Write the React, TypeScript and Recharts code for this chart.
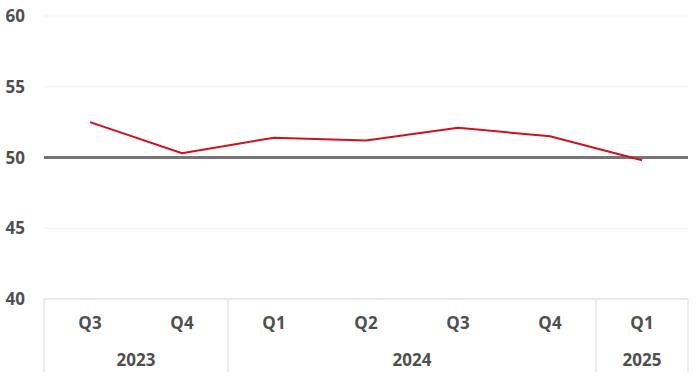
import { LineChart, Line, XAxis, YAxis, CartesianGrid, ReferenceLine } from 'recharts';

const quarters = ['Q3', 'Q4', 'Q1', 'Q2', 'Q3', 'Q4', 'Q1'];
const years = ['2023', '2023', '2024', '2024', '2024', '2024', '2025'];
const values = [52.5, 50.3, 51.4, 51.2, 52.1, 51.5, 49.8];
const yTicks = [40, 45, 50, 55, 60];

const data = quarters.map((q, i) => ({ quarter: q, year: years[i], value: values[i] }));

const WIDTH = 700;
const HEIGHT = 377;
const LEFT = 44;
const RIGHT = 12;
const BAND = (WIDTH - LEFT - RIGHT) / quarters.length;
const FONT = '"Open Sans", sans-serif';
const TEXT = '#4f4f4f';
const SEP = '#d9d9d9';

function QuarterTick(props: any) {
  const { x, y, payload } = props;
  const i = payload.index;
  const first = i === 0 || years[i] !== years[i - 1];
  const last = i === years.length - 1;
  let end = i;
  while (end + 1 < years.length && years[end + 1] === years[i]) end++;
  return (
    <g>
      <text x={x} y={y + 25} textAnchor="middle" dominantBaseline="middle" fontFamily={FONT} fontSize={17} fontWeight={700} fill={TEXT}>
        {payload.value}
      </text>
      {first && (
        <>
          <line x1={x - BAND / 2} x2={x - BAND / 2} y1={y} y2={y + 73} stroke={SEP} />
          <text x={x + ((end - i) * BAND) / 2} y={y + 62} textAnchor="middle" dominantBaseline="middle" fontFamily={FONT} fontSize={17} fontWeight={700} fill={TEXT}>
            {years[i]}
          </text>
        </>
      )}
      {last && <line x1={x + BAND / 2} x2={x + BAND / 2} y1={y} y2={y + 73} stroke={SEP} />}
    </g>
  );
}

export default function App() {
  return (
    <div style={{ position: 'absolute', left: 0, top: 0, background: '#fff' }}>
      <LineChart width={WIDTH} height={HEIGHT} data={data} margin={{ top: 16, right: RIGHT, bottom: 0, left: 0 }}>
        <CartesianGrid vertical={false} stroke="#f0f0f0" />
        <XAxis
          dataKey="quarter"
          height={78}
          interval={0}
          padding={{ left: BAND / 2, right: BAND / 2 }}
          tickLine={false}
          tickSize={0}
          tickMargin={0}
          stroke={SEP}
          tick={<QuarterTick />}
        />
        <YAxis
          width={LEFT}
          domain={[40, 60]}
          ticks={yTicks}
          axisLine={false}
          tickLine={false}
          tickMargin={13}
          tick={{ fontFamily: FONT, fontSize: 17, fontWeight: 700, fill: TEXT }}
        />
        <ReferenceLine y={50} stroke="#767676" strokeWidth={3} />
        <Line type="linear" dataKey="value" stroke="#d0101f" strokeWidth={2} dot={false} isAnimationActive={false} />
      </LineChart>
    </div>
  );
}
